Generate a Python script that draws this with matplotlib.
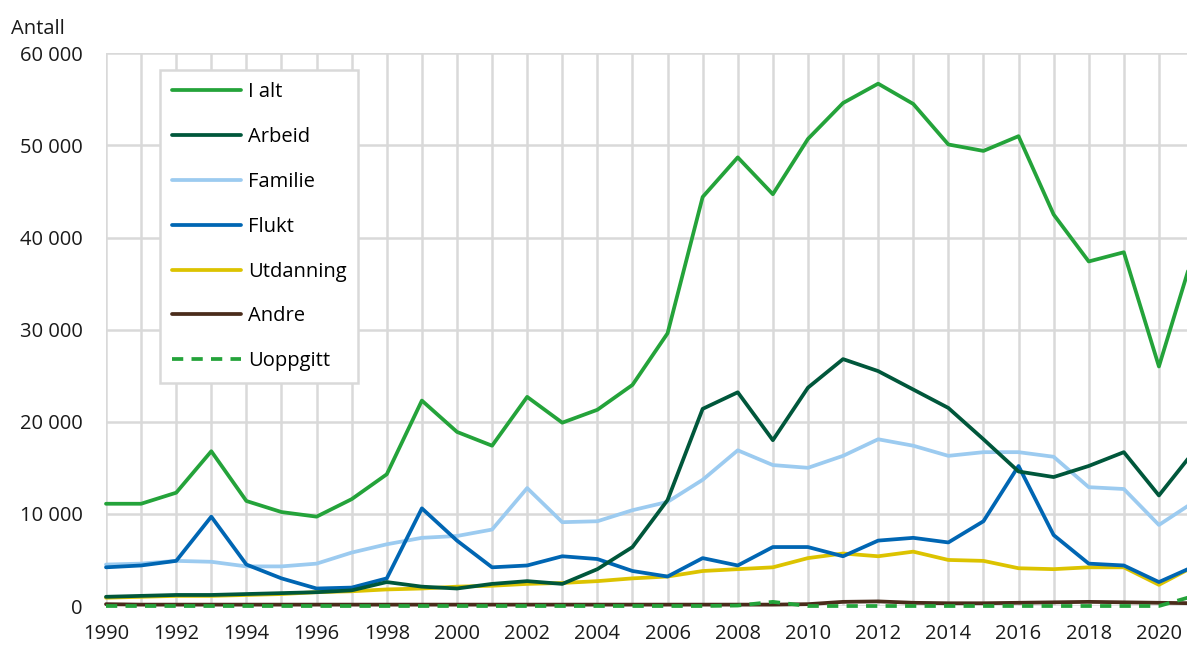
import matplotlib
matplotlib.use("Agg")
import matplotlib.pyplot as plt
from matplotlib.ticker import FuncFormatter, MultipleLocator

plt.rcParams["font.family"] = ["Open Sans", "DejaVu Sans"]

years = list(range(1990, 2022))

i_alt = [11100, 11100, 12300, 16800, 11400, 10200, 9700, 11600, 14300, 22300,
         18900, 17400, 22700, 19900, 21300, 24000, 29600, 44400, 48700, 44700,
         50700, 54600, 56700, 54500, 50100, 49400, 51000, 42500, 37400, 38400,
         26000, 38500]
arbeid = [1000, 1100, 1200, 1200, 1300, 1400, 1500, 1700, 2600, 2100,
          1900, 2400, 2700, 2400, 4000, 6400, 11500, 21400, 23200, 18000,
          23700, 26800, 25500, 23500, 21500, 18100, 14600, 14000, 15200, 16700,
          12000, 16800]
familie = [4500, 4600, 4900, 4800, 4300, 4300, 4600, 5800, 6700, 7400,
           7600, 8300, 12800, 9100, 9200, 10400, 11300, 13700, 16900, 15300,
           15000, 16300, 18100, 17400, 16300, 16700, 16700, 16200, 12900, 12700,
           8800, 11300]
flukt = [4200, 4400, 4900, 9700, 4500, 3000, 1900, 2000, 3000, 10600,
         7100, 4200, 4400, 5400, 5100, 3800, 3200, 5200, 4400, 6400,
         6400, 5400, 7100, 7400, 6900, 9200, 15200, 7700, 4600, 4400,
         2600, 4300]
utdanning = [900, 1000, 1100, 1100, 1200, 1300, 1500, 1600, 1800, 1900,
             2100, 2200, 2400, 2500, 2700, 3000, 3200, 3800, 4000, 4200,
             5200, 5700, 5400, 5900, 5000, 4900, 4100, 4000, 4200, 4200,
             2300, 4300]
andre = [200, 150, 150, 150, 150, 150, 150, 150, 150, 150,
         150, 150, 150, 150, 150, 150, 150, 150, 150, 150,
         200, 450, 500, 350, 300, 300, 350, 400, 450, 400,
         350, 300]
uoppgitt = [0, 0, 0, 0, 0, 0, 0, 0, 0, 0,
            0, 0, 0, 0, 0, 0, 0, 0, 50, 450,
            0, 0, 0, 0, 0, 0, 0, 0, 0, 0,
            0, 1100]

series = [
    ("I alt", i_alt, "#24a33a", "-"),
    ("Arbeid", arbeid, "#00573b", "-"),
    ("Familie", familie, "#9ccbf0", "-"),
    ("Flukt", flukt, "#0066b3", "-"),
    ("Utdanning", utdanning, "#dcc300", "-"),
    ("Andre", andre, "#4a2c1b", "-"),
    ("Uoppgitt", uoppgitt, "#24a33a", "--"),
]

fig = plt.figure(figsize=(11.87, 6.48), dpi=100)
ax = fig.add_axes([0.0893, 0.0648, 0.9107, 0.853])

zorders = {"I alt": 9, "Arbeid": 8, "Familie": 6, "Flukt": 7,
           "Utdanning": 5, "Andre": 4, "Uoppgitt": 10}
for name, vals, col, ls in series:
    ax.plot(years, vals, ls, color=col, lw=2.7, label=name, zorder=zorders[name],
            dashes=(3, 2.2) if ls == "--" else (None, None),
            solid_capstyle="round", clip_on=False)

ax.set_xlim(1990, 2020.8)
ax.set_ylim(0, 60000)
ax.xaxis.set_major_locator(MultipleLocator(2))
ax.xaxis.set_minor_locator(MultipleLocator(1))
ax.yaxis.set_major_locator(MultipleLocator(10000))
ax.yaxis.set_major_formatter(FuncFormatter(lambda v, p: format(int(v), ",").replace(",", " ")))
ax.grid(True, which="both", axis="x", color="#d9d9d9", lw=1.8)
ax.grid(True, which="major", axis="y", color="#d9d9d9", lw=1.8)
ax.set_axisbelow(True)
for s in ax.spines.values():
    s.set_visible(False)
ax.tick_params(which="both", length=0, labelsize=14.5, colors="#1a1a1a")
ax.tick_params(axis="x", pad=13)
ax.tick_params(axis="y", pad=17)

fig.text(0.009, 0.955, "Antall", fontsize=14.5, color="#1a1a1a", va="center")

leg = ax.legend(loc="upper left", bbox_to_anchor=(0.05, 0.969),
                borderaxespad=0, fontsize=14.5, frameon=True, fancybox=False,
                edgecolor="#d9d9d9", framealpha=1, handlelength=3.4,
                handletextpad=0.35, labelspacing=1.23, borderpad=0.6)
leg.get_frame().set_linewidth(1.8)
leg.set_zorder(20)

fig.savefig("out.png", dpi=100)
